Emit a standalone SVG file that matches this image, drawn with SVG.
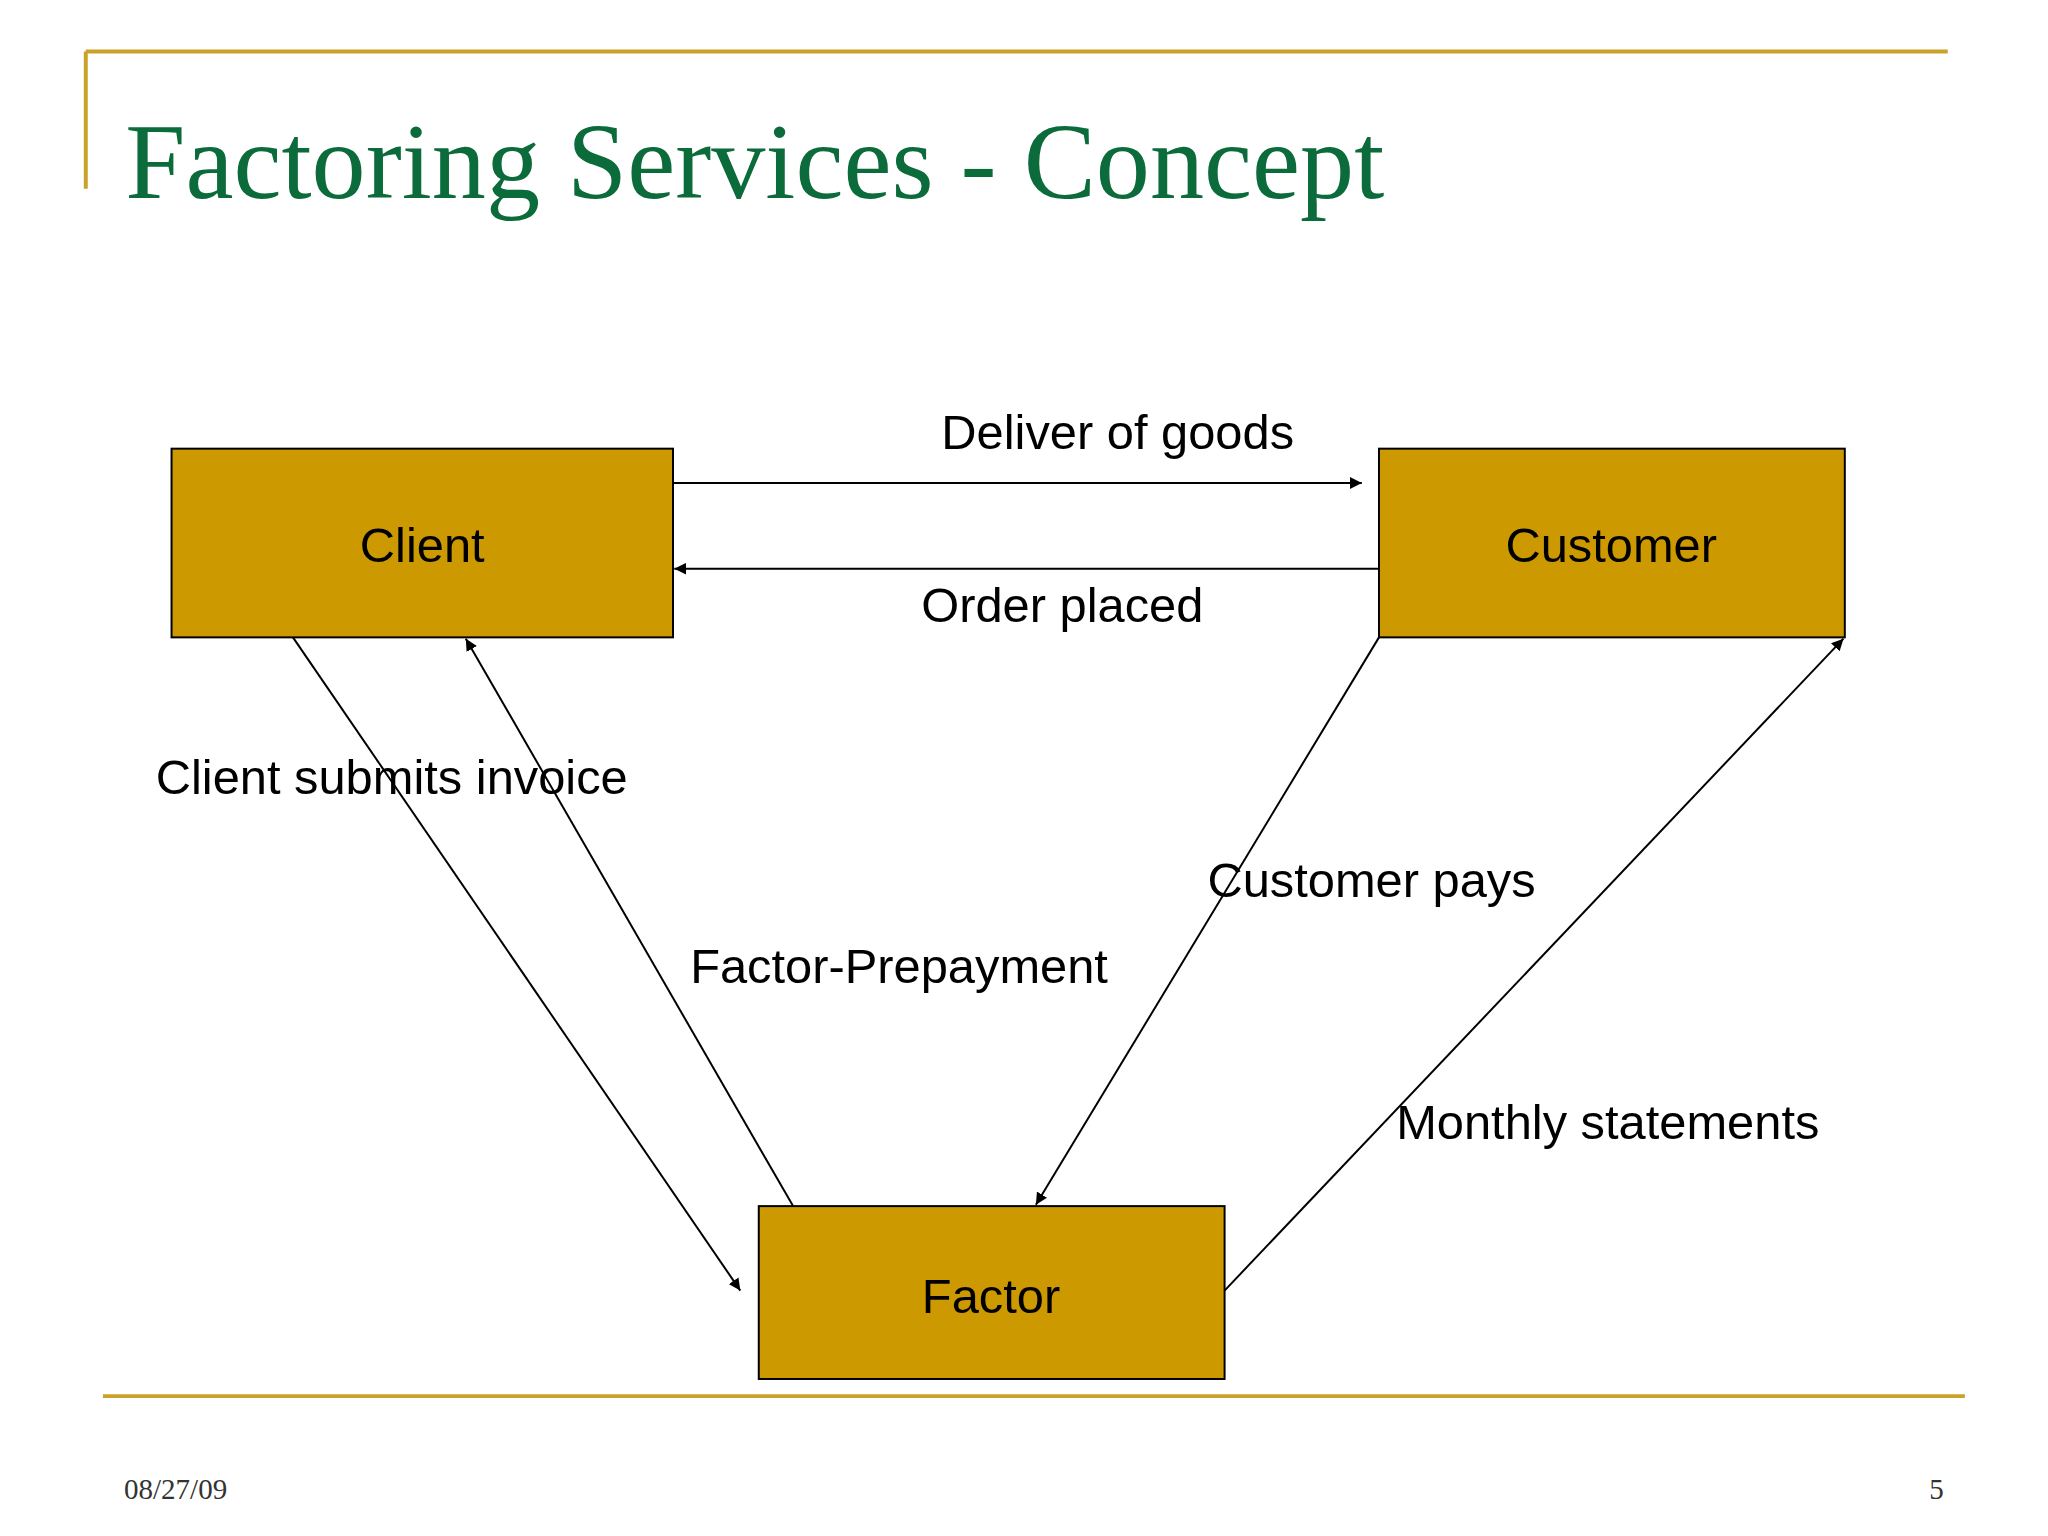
<svg xmlns="http://www.w3.org/2000/svg" width="2048" height="1536" viewBox="0 0 2048 1536">
<defs>
<style>
.box{fill:#CC9900;stroke:#000;stroke-width:1.5}
.lbl{font-family:"Liberation Sans",Arial,sans-serif;font-size:37px;fill:#000}
.con{stroke:#000;stroke-width:1.5;fill:none;marker-end:url(#ah)}
.gold{stroke:#C9A227;stroke-width:3}
.foot{font-family:"Liberation Serif","Times New Roman",serif;font-size:22px;fill:#333}
</style>
<marker id="ah" viewBox="0 0 10 10" refX="10" refY="5" markerWidth="9" markerHeight="9" markerUnits="userSpaceOnUse" orient="auto"><path d="M0,0 L10,5 L0,10 z" fill="#000"/></marker>
</defs>
<rect width="2048" height="1536" fill="#fff"/>
<g transform="scale(1.3196)">
<line class="gold" x1="65" y1="39" x2="1476" y2="39"/>
<line class="gold" x1="65" y1="39" x2="65" y2="143"/>
<line class="gold" x1="78" y1="1058" x2="1489" y2="1058"/>
<text x="95" y="150" font-family="Liberation Serif,'Times New Roman',serif" font-size="82" fill="#0B6B3A">Factoring Services - Concept</text>
<g id="connectors">
<line class="con" x1="510" y1="366" x2="1032" y2="366"/>
<line class="con" x1="1045" y1="431" x2="511" y2="431"/>
<line class="con" x1="222" y1="483" x2="561" y2="978"/>
<line class="con" x1="601" y1="914" x2="353" y2="484"/>
<line class="con" x1="1045" y1="483" x2="785" y2="913"/>
<line class="con" x1="928" y1="978" x2="1397" y2="484"/>
<text class="lbl" x="847" y="340" text-anchor="middle">Deliver of goods</text>
<text class="lbl" x="805" y="471" text-anchor="middle">Order placed</text>
<text class="lbl" x="118" y="602">Client submits invoice</text>
<text class="lbl" x="523" y="745">Factor-Prepayment</text>
<text class="lbl" x="915" y="680">Customer pays</text>
<text class="lbl" x="1058" y="863">Monthly statements</text>
</g>
<g id="client"><rect class="box" x="130" y="340" width="380" height="143"/><text class="lbl" x="320" y="426" text-anchor="middle">Client</text></g>
<g id="customer"><rect class="box" x="1045" y="340" width="353" height="143"/><text class="lbl" x="1221" y="426" text-anchor="middle">Customer</text></g>
<g id="factor"><rect class="box" x="575" y="914" width="353" height="131"/><text class="lbl" x="751" y="995" text-anchor="middle">Factor</text></g>
<text class="foot" x="94" y="1136">08/27/09</text>
<text class="foot" x="1473" y="1136" text-anchor="end">5</text>
</g>
</svg>
